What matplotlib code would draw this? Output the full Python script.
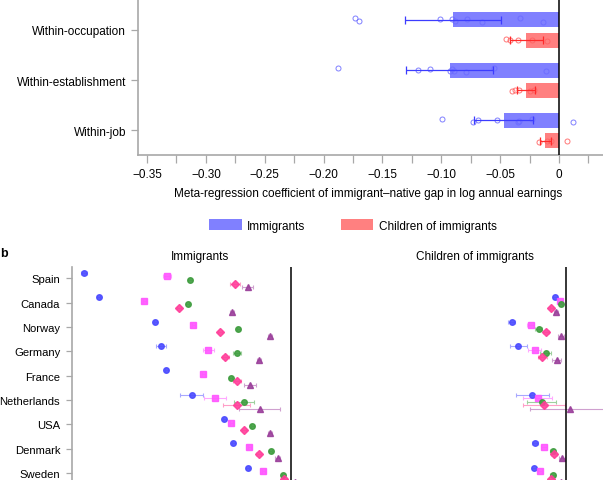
import numpy as np
import matplotlib
matplotlib.use("Agg")
import matplotlib.pyplot as plt
from matplotlib.patches import Patch

plt.rcParams['font.family'] = ['Liberation Sans', 'DejaVu Sans']
plt.rcParams['font.size'] = 8.5

# ---------------- Panel a data ----------------
categories = ['Within-occupation', 'Within-establishment', 'Within-job']
imm_coef = [-0.090, -0.093, -0.047]
imm_err = [0.041, 0.037, 0.025]
chi_coef = [-0.028, -0.028, -0.0115]
chi_err = [0.014, 0.008, 0.0045]

occ_imm = [-0.173, -0.170, -0.101, -0.091, -0.088, -0.078, -0.065, -0.033, -0.014]
occ_chi = [-0.045, -0.042, -0.035, -0.023, -0.010]
est_imm = [-0.188, -0.120, -0.110, -0.093, -0.091, -0.089, -0.079, -0.055, -0.011]
est_chi = [-0.040, -0.037, -0.034, -0.025, -0.021]
job_imm = [-0.099, -0.073, -0.069, -0.053, -0.035, -0.034, -0.023, 0.012]
job_chi = [-0.017, -0.010, -0.007, 0.007]

# vertical jitter of the country points (style)
occ_imm_j = [0.044, -0.024, 0.024, 0.010, -0.024, 0.010, -0.044, 0.030, -0.036]
occ_chi_j = [0.014, 0.0, -0.006, 0.006, -0.020]
est_imm_j = [0.040, 0.0, 0.014, -0.026, 0.020, -0.010, -0.034, 0.034, -0.026]
est_chi_j = [-0.010, 0.0, 0.010, -0.010, 0.0]
job_imm_j = [0.034, -0.026, 0.014, 0.006, -0.034, -0.010, 0.026, -0.034]
job_chi_j = [-0.034, 0.0, 0.0, 0.0]

# ---------------- Panel b data ----------------
countries = ['Spain', 'Canada', 'Norway', 'Germany', 'France', 'Netherlands', 'USA', 'Denmark', 'Sweden']
nan = np.nan
imm_s1 = [-0.568, -0.527, -0.372, -0.356, -0.342, -0.273, -0.184, -0.159, -0.120]
imm_s2 = [-0.340, -0.403, -0.269, -0.227, -0.241, -0.210, -0.164, -0.115, -0.077]
imm_s3 = [-0.278, -0.284, -0.145, -0.148, -0.166, -0.129, -0.107, -0.056, -0.023]
imm_s4 = [-0.154, -0.308, -0.196, -0.181, -0.150, -0.150, -0.130, -0.090, -0.019]
imm_s5 = [-0.120, -0.162, -0.058, -0.088, -0.114, -0.087, -0.058, -0.038, 0.011]
imm_e1 = [0.008, 0.004, 0.004, 0.014, 0.004, 0.032, 0.004, 0.004, 0.004]
imm_e2 = [0.010, 0.004, 0.004, 0.014, 0.004, 0.030, 0.004, 0.004, 0.004]
imm_e3 = [0.006, 0.004, 0.004, 0.011, 0.004, 0.027, 0.004, 0.004, 0.004]
imm_e4 = [0.014, 0.006, 0.006, 0.009, 0.011, 0.037, 0.006, 0.006, 0.006]
imm_e5 = [0.016, 0.006, 0.006, 0.006, 0.016, 0.057, 0.006, 0.006, 0.006]

chi_s1 = [nan, -0.032, -0.150, -0.132, nan, -0.093, nan, -0.087, -0.089]
chi_s2 = [nan, -0.018, -0.098, -0.087, nan, -0.079, nan, -0.062, -0.073]
chi_s3 = [nan, -0.016, -0.076, -0.057, nan, -0.068, nan, -0.038, -0.038]
chi_s4 = [nan, -0.041, -0.055, -0.066, nan, -0.061, nan, -0.034, -0.041]
chi_s5 = [nan, -0.028, -0.016, -0.027, nan, 0.010, nan, -0.013, -0.016]
chi_e1 = [nan, 0.006, 0.010, 0.023, nan, 0.044, nan, 0.008, 0.006]
chi_e2 = [nan, 0.006, 0.010, 0.017, nan, 0.040, nan, 0.008, 0.006]
chi_e3 = [nan, 0.005, 0.010, 0.016, nan, 0.039, nan, 0.008, 0.006]
chi_e4 = [nan, 0.005, 0.008, 0.012, nan, 0.058, nan, 0.008, 0.006]
chi_e5 = [nan, 0.005, 0.008, 0.012, nan, 0.109, nan, 0.008, 0.006]

W, H = 603, 481
fig = plt.figure(figsize=(W / 100, H / 100), dpi=100)

GRAY = '#a8a8a8'
BLUE_BAR = '#8080ff'
RED_BAR = '#ff8080'

# ================= Panel a =================
axa = fig.add_axes([138 / W, 1 - 156 / H, (W - 138) / W, 156 / H])
ypos = np.array([2, 1, 0])
off = 0.2
axa.barh(ypos + off, imm_coef, height=0.3, color=BLUE_BAR, zorder=2)
axa.barh(ypos - off, chi_coef, height=0.3, color=RED_BAR, zorder=2)
axa.errorbar(imm_coef, ypos + off, xerr=imm_err, fmt='none', ecolor='#3c3cff',
             elinewidth=0.9, capsize=3, capthick=0.9, zorder=4)
axa.errorbar(chi_coef, ypos - off, xerr=chi_err, fmt='none', ecolor='#ff2a2a',
             elinewidth=0.9, capsize=3, capthick=0.9, zorder=4)

imm_pts = [occ_imm, est_imm, job_imm]
imm_jit = [occ_imm_j, est_imm_j, job_imm_j]
chi_pts = [occ_chi, est_chi, job_chi]
chi_jit = [occ_chi_j, est_chi_j, job_chi_j]
for yc, pts, jit in zip(ypos, imm_pts, imm_jit):
    axa.plot(pts, yc + off + np.array(jit), 'o', ms=3.6, mfc='none',
             mec='#6a6aff', mew=0.7, alpha=0.85, zorder=3)
for yc, pts, jit in zip(ypos, chi_pts, chi_jit):
    axa.plot(pts, yc - off + np.array(jit), 'o', ms=3.6, mfc='none',
             mec='#ff6060', mew=0.7, alpha=0.85, zorder=3)

axa.axvline(0, color='black', lw=1.1, zorder=5)
axa.set_xlim(-0.3577, 0.0374)
axa.set_ylim(-0.488, 2.617)
axa.set_yticks(ypos)
axa.set_yticklabels(categories)
major = np.arange(-0.35, 0.0251, 0.025)
axa.set_xticks(major)
labels = []
for v in major:
    k = int(round(v / 0.025))
    if k % 2 == 0:
        labels.append('0' if k == 0 else '\u2212' + f'{abs(v):.2f}')
    else:
        labels.append('')
axa.set_xticklabels(labels)
for s in ['top', 'right']:
    axa.spines[s].set_visible(False)
for s in ['left', 'bottom']:
    axa.spines[s].set_color(GRAY)
    axa.spines[s].set_linewidth(1.2)
axa.tick_params(axis='x', length=6, width=0.9, color=GRAY, pad=3.5)
axa.tick_params(axis='y', length=5, width=0.9, color=GRAY, pad=3.5)
axa.set_xlabel('Meta-regression coefficient of immigrant\u2013native gap in log annual earnings')
axa.xaxis.set_label_coords((367.7 - 138) / (W - 138), -31.5 / 156)

# legend
handles = [Patch(facecolor=BLUE_BAR, edgecolor='none', label='Immigrants'),
           Patch(facecolor=RED_BAR, edgecolor='none', label='Children of immigrants')]
fig.legend(handles=handles, loc='center', bbox_to_anchor=(353 / W, 1 - 226.5 / H),
           ncol=2, frameon=False, handlelength=2.75, handleheight=1.1,
           handletextpad=0.45, columnspacing=3.0, borderpad=0)

# ================= Panel b =================
rows = np.arange(len(countries))
step = 0.148
offsets = np.array([-1.5, -0.5, 0.5, 1.5, 2.5]) * step
markers = ['o', 's', 'o', 'D', '^']
msizes = [4.0, 4.0, 4.0, 3.6, 4.8]
colors = ['#4b4bff', '#ff55ff', '#3f9d3f', '#ff3f9a', '#9a3f9a']
ecolors = ['#a8a8ff', '#ffa8ff', '#9fd09f', '#ff9fc8', '#cfa0cf']

top_px, bot_px = 268.0, 493.6
row0_px, row_sp = 279.3, 24.35
y_top = (top_px - row0_px) / row_sp
y_bot = (bot_px - row0_px) / row_sp

def draw_panel(ax, series, errs):
    for i in range(5):
        ax.errorbar(series[i], rows + offsets[i], xerr=errs[i], fmt='none',
                    ecolor=ecolors[i], elinewidth=0.8, capsize=1.3, capthick=0.8, zorder=2)
        ax.plot(series[i], rows + offsets[i], linestyle='none', marker=markers[i],
                ms=msizes[i], color=colors[i], mec=colors[i], alpha=0.9, zorder=3)
    ax.axvline(0, color='black', lw=1.1, zorder=4)
    ax.set_xlim(-0.6, 0.1)
    ax.set_ylim(y_bot, y_top)
    ax.set_xticks([])

axl = fig.add_axes([72 / W, (H - bot_px) / H, 256 / W, (bot_px - top_px) / H])
draw_panel(axl, [imm_s1, imm_s2, imm_s3, imm_s4, imm_s5],
           [imm_e1, imm_e2, imm_e3, imm_e4, imm_e5])
axl.set_yticks(rows)
axl.set_yticklabels(countries, fontsize=8.15)
for s in ['top', 'right', 'bottom']:
    axl.spines[s].set_visible(False)
axl.spines['left'].set_color(GRAY)
axl.spines['left'].set_linewidth(1.2)
axl.tick_params(axis='y', length=4.5, width=0.9, color=GRAY, pad=4)

axr = fig.add_axes([347 / W, (H - bot_px) / H, 256 / W, (bot_px - top_px) / H])
draw_panel(axr, [chi_s1, chi_s2, chi_s3, chi_s4, chi_s5],
           [chi_e1, chi_e2, chi_e3, chi_e4, chi_e5])
axr.set_yticks([])
for s in ['top', 'right', 'bottom', 'left']:
    axr.spines[s].set_visible(False)

fig.text(200 / W, 1 - 256.7 / H, 'Immigrants', ha='center', va='center', fontsize=8.5)
fig.text(475 / W, 1 - 256.7 / H, 'Children of immigrants', ha='center', va='center', fontsize=8.5)
fig.text(0.0, 1 - 254 / H, 'b', ha='left', va='center', fontsize=9, fontweight='bold')

fig.savefig('out.png', dpi=100)
